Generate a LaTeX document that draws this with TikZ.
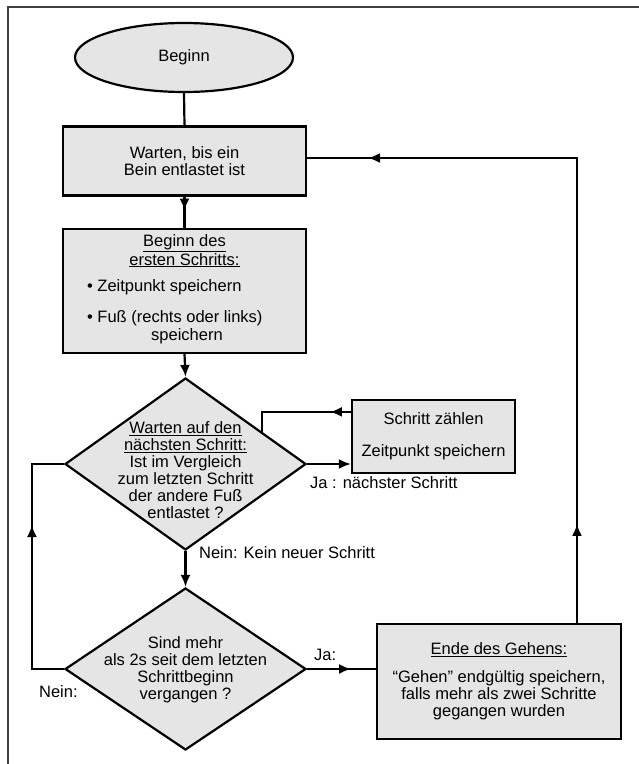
\documentclass[tikz,border=0pt]{standalone}
\usepackage{fontspec}
\setmainfont{Liberation Sans}
\usetikzlibrary{shapes.geometric,arrows.meta}
\tikzset{
  box/.style={draw,line width=2.2pt,fill=black!10,inner sep=0pt},
  dia/.style={diamond,draw,line width=2.2pt,fill=black!10,inner sep=0pt},
  arr/.style={-{Latex[length=12pt,width=10pt]}},
  txt/.style={align=center,inner sep=0pt},
}
\begin{document}
\begin{tikzpicture}[x=1pt,y=-1pt,line width=2.2pt,font=\fontsize{16.5pt}{17pt}\selectfont]
\useasboundingbox (0,0) rectangle (639,764);
% Rahmen
\draw[black!75,line width=2.6pt] (8,764)--(8,7)--(639,7);
% Knoten
\node[ellipse,box,minimum width=218pt,minimum height=69pt] (beginn) at (184,57.5) {Beginn};
\node[box,minimum width=243pt,minimum height=69pt,align=center] (warten) at (184.5,161) {Warten, bis ein\\Bein entlastet ist};
\node[box,minimum width=243pt,minimum height=124pt] (start) at (184.5,291) {};
\node[txt] (startTitel) at (184.5,251) {\underline{Beginn des}\\\underline{ersten Schritts:}};
\node[txt,anchor=west] (punktA) at (86,287) {\textbullet\ Zeitpunkt speichern};
\node[txt,anchor=west] (punktB) at (86,318) {\textbullet\ Fuß (rechts oder links)};
\node[txt] (punktC) at (187,336) {speichern};
\node[dia,minimum width=241pt,minimum height=172pt] (warte) at (185.5,464) {};
\node[txt] (warteTxt) at (185.5,470) {\underline{Warten auf den}\\\underline{nächsten Schritt:}\\Ist im Vergleich\\zum letzten Schritt\\der andere Fuß\\entlastet ?};
\node[box,minimum width=163pt,minimum height=73pt,align=center] (zaehlen) at (433.5,436.5) {Schritt zählen\\[15pt]Zeitpunkt speichern};
\node[dia,minimum width=241pt,minimum height=162pt] (mehr) at (185.5,669) {};
\node[txt] (mehrTxt) at (185.5,670) {Sind mehr\\als 2s seit dem letzten\\Schrittbeginn\\vergangen ?};
\node[box,minimum width=244pt,minimum height=115pt,align=center] (ende) at (499,681.5) {\underline{Ende des Gehens:}\\[11pt]``Gehen'' endgültig speichern,\\falls mehr als zwei Schritte\\gegangen wurden};
% Verbindungen
\draw (beginn.south) -- (warten.north);
\draw (warten.south) -- (start.north);
\draw[arr] (warten.south) -- ++(0,14);
\draw[arr] (start.south) -- (warte.north);
\draw[arr] (warte.east) -- (warte.east -| zaehlen.west);
\coordinate (rueckA) at ([yshift=-13pt]zaehlen.north west);
\draw (rueckA) -- (rueckA -| warte.23) -- (warte.23);
\draw[arr] (rueckA) -- ++(-21,0);
\draw[arr] (warte.south) -- (mehr.north);
\draw (mehr.east) -- (mehr.east -| ende.west);
\draw[arr] (mehr.east) -- ++(44,0);
\draw (mehr.west) -- ++(-32,0) coordinate (linksU) -- (linksU |- warte.west) -- (warte.west);
\draw[arr] (linksU) -- ++(0,-144);
\coordinate (rechtsU) at ([xshift=78pt]ende.north);
\draw (rechtsU) -- (rechtsU |- 0,158) coordinate (rechtsO) -- (rechtsO -| warten.east);
\draw[arr] (rechtsU) -- ++(0,-99);
\draw[arr] (rechtsO) -- ++(-209,0);
% Beschriftungen
\node[txt,anchor=west] (jaA) at (309,483) {Ja : nächster Schritt};
\node[txt,anchor=west] (neinA) at (198,553) {Nein: Kein neuer Schritt};
\node[txt,anchor=west] (jaB) at (313,655) {Ja:};
\node[txt,anchor=west] (neinB) at (38,692) {Nein:};
\end{tikzpicture}
\end{document}
